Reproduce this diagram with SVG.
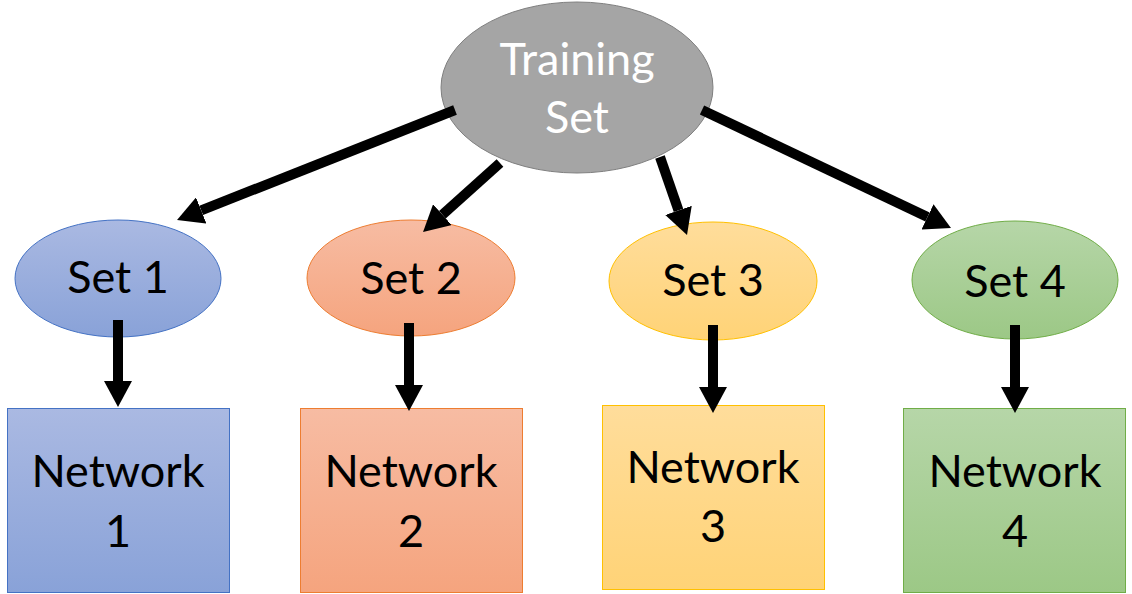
<svg xmlns="http://www.w3.org/2000/svg" width="1132" height="594" viewBox="0 0 1132 594">
<defs>
<linearGradient id="gBlue" x1="0" y1="0" x2="0" y2="1"><stop offset="0" stop-color="#aab9e2"/><stop offset="1" stop-color="#89a2d8"/></linearGradient>
<linearGradient id="gOrange" x1="0" y1="0" x2="0" y2="1"><stop offset="0" stop-color="#f7bca3"/><stop offset="1" stop-color="#f5a47e"/></linearGradient>
<linearGradient id="gYellow" x1="0" y1="0" x2="0" y2="1"><stop offset="0" stop-color="#ffdd9b"/><stop offset="1" stop-color="#ffd377"/></linearGradient>
<linearGradient id="gGreen" x1="0" y1="0" x2="0" y2="1"><stop offset="0" stop-color="#b6d6a8"/><stop offset="1" stop-color="#9cc886"/></linearGradient>
<marker id="ah" viewBox="0 0 26 28" refX="0" refY="14" markerWidth="26" markerHeight="28" markerUnits="userSpaceOnUse" orient="auto">
<path d="M0,0 L26,14 L0,28 z" fill="#000"/>
</marker>
</defs>
<style>
text{font-family:Lato,"Liberation Sans",sans-serif;font-size:45px;text-anchor:middle;fill:#000}
.w{fill:#fff}
.c{stroke:#000;stroke-width:10;fill:none;marker-end:url(#ah)}
.blue{fill:url(#gBlue);stroke:#4472c4;stroke-width:1}
.orange{fill:url(#gOrange);stroke:#ed7d31;stroke-width:1}
.yellow{fill:url(#gYellow);stroke:#ffc000;stroke-width:1}
.green{fill:url(#gGreen);stroke:#70ad47;stroke-width:1}
</style>
<rect width="1132" height="594" fill="#fff"/>
<g id="training">
<ellipse cx="577" cy="87.5" rx="136" ry="85.5" fill="#a5a5a5" stroke="#7f7f7f" stroke-width="1"/>
<text x="577" y="75" class="w">Training</text>
<text x="577" y="133" class="w">Set</text>
</g>
<g id="set1"><ellipse class="blue" cx="118" cy="278.5" rx="103" ry="58.5"/><text x="118" y="293">Set 1</text></g>
<g id="set2"><ellipse class="orange" cx="411" cy="278" rx="104" ry="58"/><text x="411" y="294">Set 2</text></g>
<g id="set3"><ellipse class="yellow" cx="713" cy="281" rx="104" ry="59"/><text x="713" y="296">Set 3</text></g>
<g id="set4"><ellipse class="green" cx="1015" cy="280" rx="103" ry="59"/><text x="1015" y="297">Set 4</text></g>
<g id="net1"><rect class="blue" x="7.5" y="408.5" width="222" height="184"/><text x="118" y="487">Network</text><text x="118" y="547">1</text></g>
<g id="net2"><rect class="orange" x="300.5" y="408.5" width="222" height="184"/><text x="411" y="487">Network</text><text x="411" y="547">2</text></g>
<g id="net3"><rect class="yellow" x="602.5" y="405.5" width="222" height="184"/><text x="713" y="483">Network</text><text x="713" y="542">3</text></g>
<g id="net4"><rect class="green" x="903.5" y="408.5" width="222" height="184"/><text x="1015" y="487">Network</text><text x="1015" y="547">4</text></g>
<g id="connectors">
<line class="c" x1="455" y1="110" x2="201.2" y2="210.4"/>
<line class="c" x1="500" y1="163" x2="442.4" y2="214.7"/>
<line class="c" x1="660" y1="157" x2="678.5" y2="210.4"/>
<line class="c" x1="702" y1="110" x2="927.5" y2="216.9"/>
<line class="c" x1="118" y1="320" x2="118" y2="381"/>
<line class="c" x1="409" y1="323" x2="409" y2="385"/>
<line class="c" x1="713" y1="325" x2="713" y2="387"/>
<line class="c" x1="1015" y1="325" x2="1015" y2="387"/>
</g>
</svg>
